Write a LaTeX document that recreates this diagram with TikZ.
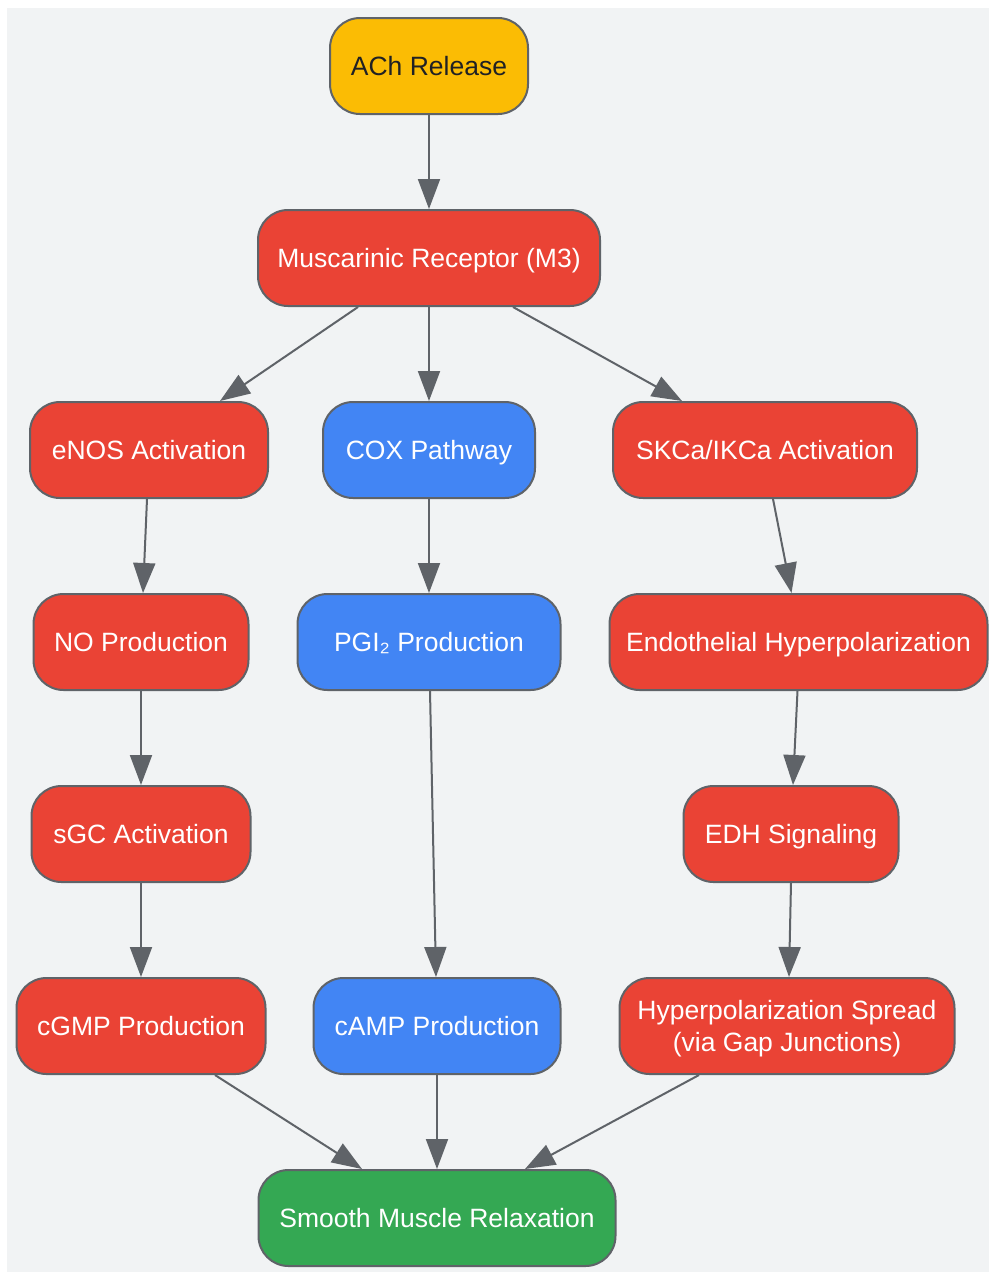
\documentclass[tikz,border=0pt]{standalone}
\usepackage{fontspec}
\setmainfont{Liberation Sans}
\usetikzlibrary{arrows.meta,calc}

\definecolor{bgc}{HTML}{F1F3F4}
\definecolor{edgec}{HTML}{5F6368}
\definecolor{redc}{HTML}{EA4335}
\definecolor{bluec}{HTML}{4285F4}
\definecolor{greenc}{HTML}{34A853}
\definecolor{yelc}{HTML}{FBBC04}
\definecolor{darkc}{HTML}{202124}

\begin{document}
\begin{tikzpicture}[x=1pt, y=-1pt,
    box/.style= {draw=edgec, line width=2pt, rounded corners=30pt, minimum height=96pt,
      inner sep=0pt, align=center, text=white, text height=18pt, text depth=0pt,
      font=\fontsize{26.5}{32}\selectfont},
    rbox/.style= {box, fill=redc},
    bbox/.style= {box, fill=bluec},
    e1/.style= {draw=edgec, line width=2pt, -{Triangle[length=30pt, width=22pt]}},
]

% frame
\useasboundingbox (0,0) rectangle (989,1272);
\fill[bgc] (7,8) rectangle (989,1272);

% top
\node[box, fill=yelc, text=darkc, minimum width=198] (ach) at (429,66) {ACh Release};
\node[rbox, minimum width=342] (m3) at (429,258) {Muscarinic Receptor (M3)};

% left column
\node[rbox, minimum width=238] (enos) at (149,450) {eNOS Activation};
\node[rbox, minimum width=215] (no) at (141,642) {NO Production};
\node[rbox, minimum width=219] (sgc) at (141,834) {sGC Activation};
\node[rbox, minimum width=249] (cgmp) at (141,1026) {cGMP Production};

% middle column
\node[bbox, minimum width=212] (cox) at (429,450) {COX Pathway};
\node[bbox, minimum width=263] (pgi) at (429,642) {PGI₂ Production};
\node[bbox, minimum width=247] (camp) at (437,1026) {cAMP Production};

% right column
\node[rbox, minimum width=304] (skca) at (765,450) {SKCa/IKCa Activation};
\node[rbox, minimum width=378] (endo) at (798.5,642) {Endothelial Hyperpolarization};
\node[rbox, minimum width=215] (edh) at (791,834) {EDH Signaling};
\node[rbox, minimum width=335, text height={}] (spread) at (787,1026)
  {Hyperpolarization Spread\\(via Gap Junctions)};

% bottom
\node[box, fill=greenc, minimum width=357] (smooth) at (437,1218) {Smooth Muscle Relaxation};

% arrows
\draw[e1] (ach) -- (m3);
\draw[e1] ($(m3.south)+(-71,0)$) -- ($(enos.north)+(71,0)$);
\draw[e1] (m3) -- (cox);
\draw[e1] ($(m3.south)+(84,0)$) -- ($(skca.north)+(-83,0)$);

\draw[e1] ($(enos.south)+(-2,0)$) -- ($(no.north)+(2,0)$);
\draw[e1] (no) -- (sgc);
\draw[e1] (sgc) -- (cgmp);

\draw[e1] (cox) -- (pgi);
\draw[e1] ($(pgi.south)+(1,0)$) -- ($(camp.north)+(-1,0)$);

\draw[e1] ($(skca.south)+(8,0)$) -- ($(endo.north)+(-7,0)$);
\draw[e1] ($(endo.south)+(-1,0)$) -- ($(edh.north)+(2,0)$);
\draw[e1] (edh.south) -- ($(spread.north)+(2,0)$);

\draw[e1] ($(cgmp.south)+(74,0)$) -- ($(smooth.north)+(-75,0)$);
\draw[e1] (camp) -- (smooth);
\draw[e1] ($(spread.south)+(-88,0)$) -- ($(smooth.north)+(88,0)$);
\end{tikzpicture}
\end{document}
